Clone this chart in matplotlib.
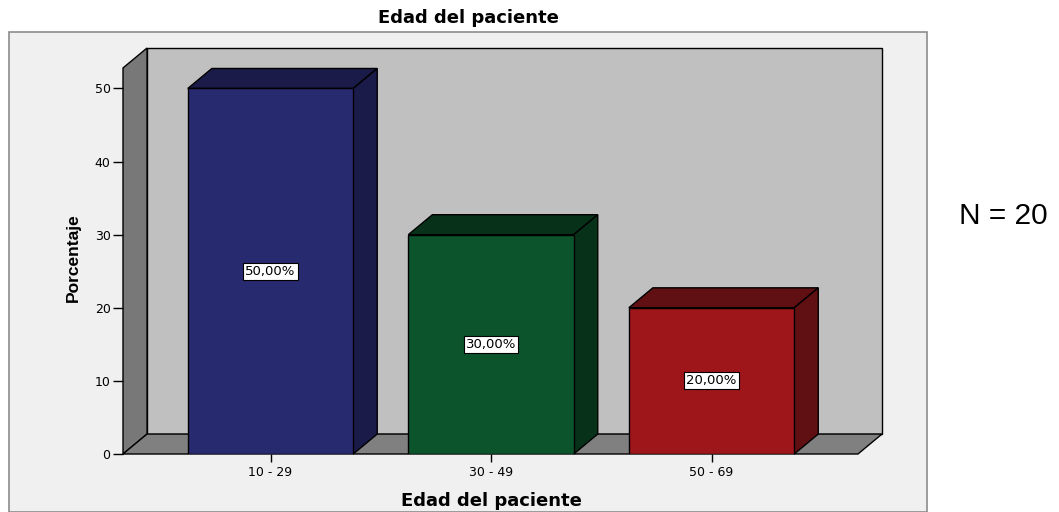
import matplotlib.pyplot as plt
from matplotlib.patches import Polygon, Rectangle

# data
categorias = ["10 - 29", "30 - 49", "50 - 69"]
porcentajes = [50.0, 30.0, 20.0]
etiquetas = ["50,00%", "30,00%", "20,00%"]
n_total = 20

colores = ["#282a70", "#0b542c", "#9f161a"]
colores_osc = ["#1b1b4a", "#073219", "#600f12"]

# geometria del "3D"
x0, x1 = -0.669, 2.773      # borde izq. frontal / borde der. fondo
dx, dy = 0.109, 2.73        # profundidad
alto = 52.8                  # alto de las paredes
ancho = 0.75

fig = plt.figure(figsize=(10.59, 5.12), dpi=100)
fig.patch.set_facecolor("white")
fondo = Rectangle((9 / 1059, 0), 918 / 1059, (512 - 32) / 512,
                  transform=fig.transFigure, facecolor="#f0f0f0",
                  edgecolor="#8c8c8c", lw=1.2, zorder=-1)
fig.patches.append(fondo)

ax = fig.add_axes([123 / 1059, 58 / 512, 759 / 1059, 406 / 512])
ax.set_zorder(1)
ax.set_xlim(x0, x1)
ax.set_ylim(0, alto + dy)
ax.patch.set_visible(False)
for s in ax.spines.values():
    s.set_visible(False)

# paredes
ax.add_patch(Rectangle((x0 + dx, dy), x1 - x0 - dx, alto, facecolor="#c0c0c0",
                       edgecolor="black", lw=1, clip_on=False, zorder=1))
ax.add_patch(Polygon([(x0, 0), (x0 + dx, dy), (x0 + dx, alto + dy), (x0, alto)],
                     facecolor="#787878", edgecolor="black", lw=1, clip_on=False, zorder=1))
ax.add_patch(Polygon([(x0, 0), (x0 + dx, dy), (x1, dy), (x1 - dx, 0)],
                     facecolor="#808080", edgecolor="black", lw=1, clip_on=False, zorder=1))

# barras
xs = list(range(len(categorias)))
ax.bar(xs, porcentajes, width=ancho, color=colores, edgecolor="black", lw=1, zorder=3)
for x, v, c in zip(xs, porcentajes, colores_osc):
    xl, xr = x - ancho / 2, x + ancho / 2
    ax.add_patch(Polygon([(xl, v), (xl + dx, v + dy), (xr + dx, v + dy), (xr, v)],
                         facecolor=c, edgecolor="black", lw=1, clip_on=False, zorder=2))
    ax.add_patch(Polygon([(xr, 0), (xr + dx, dy), (xr + dx, v + dy), (xr, v)],
                         facecolor=c, edgecolor="black", lw=1, clip_on=False, zorder=2))

for x, v, t in zip(xs, porcentajes, etiquetas):
    ax.text(x, v / 2, t, ha="center", va="center", fontsize=9.5, zorder=5,
            bbox=dict(boxstyle="square,pad=0.15", facecolor="white", edgecolor="black", lw=0.8))

ax.set_yticks([0, 10, 20, 30, 40, 50])
ax.tick_params(axis="y", direction="out", length=7, width=1, labelsize=9, pad=2)
ax.set_xticks(xs)
ax.set_xticklabels(categorias)
ax.tick_params(axis="x", direction="out", length=6, width=1, labelsize=9, pad=3)

ax.set_ylabel("Porcentaje", fontsize=12.5, fontweight="bold", family="Liberation Sans")
ax.yaxis.set_label_coords(-0.056, 0.483)
ax.set_xlabel("Edad del paciente", fontsize=13, fontweight="bold")
ax.xaxis.set_label_coords(0.485, -0.093)

fig.text(468 / 1059, 1 - 18 / 512, "Edad del paciente", ha="center", va="center",
         fontsize=13, fontweight="bold")
fig.text(1003 / 1059, 1 - 216 / 512, f"N = {n_total}", ha="center", va="center",
         fontsize=21.5, family="Liberation Sans")

fig.savefig("out.png", dpi=100)
